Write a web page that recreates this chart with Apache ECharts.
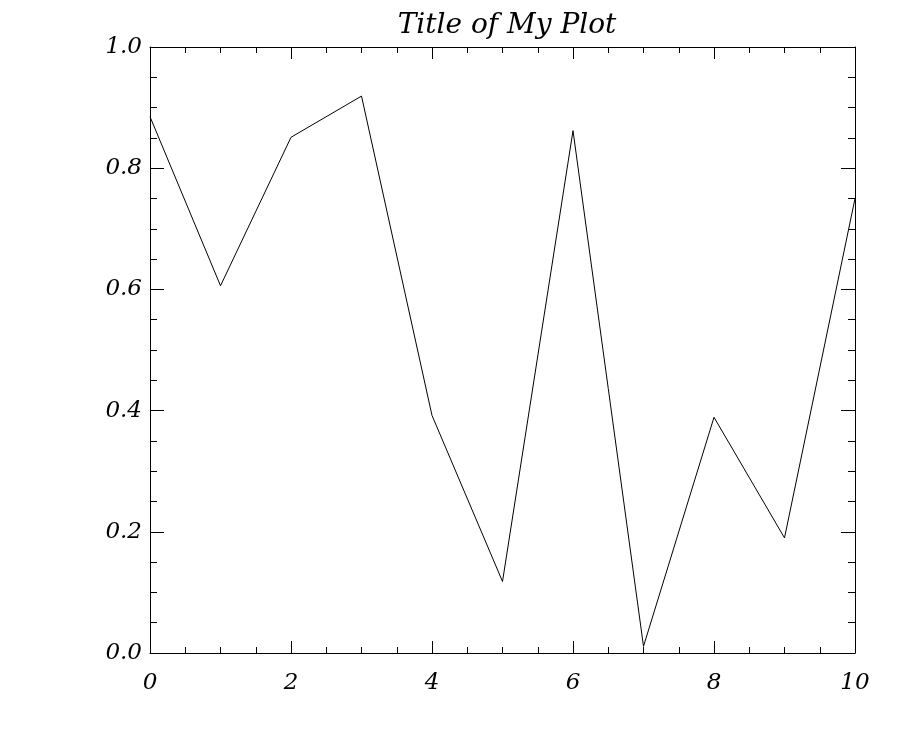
<!DOCTYPE html>
<html>
<head>
<meta charset="utf-8">
<script src="https://cdn.jsdelivr.net/npm/echarts@6/dist/echarts.min.js"></script>
<style>
  html, body { margin: 0; padding: 0; background: #fff; }
  #main { width: 900px; height: 750px; }
</style>
</head>
<body>
<div id="main"></div>
<script>
// data
const xValues = [0, 1, 2, 3, 4, 5, 6, 7, 8, 9, 10];
const yValues = [0.885, 0.606, 0.851, 0.919, 0.392, 0.118, 0.862, 0.011, 0.389, 0.190, 0.750];
const titleText = "Title of My Plot";

const font = "'DejaVu Serif', 'Liberation Serif', serif";

const chart = echarts.init(document.getElementById("main"));

// IDL style box: ticks on all four sides, pointing inward
const xBase = (pos, showLabel) => ({
  type: "value",
  position: pos,
  min: 0,
  max: 10,
  interval: 2,
  axisLine: { show: true, onZero: false, lineStyle: { color: "#000", width: 1 } },
  axisTick: { show: true, inside: true, length: 12, lineStyle: { color: "#000", width: 1 } },
  minorTick: { show: true, splitNumber: 4, length: 6, lineStyle: { color: "#000", width: 1 } },
  splitLine: { show: false },
  axisLabel: {
    show: showLabel,
    margin: 19,
    color: "#000",
    fontFamily: font,
    fontStyle: "italic",
    fontSize: 23
  }
});
const yBase = (pos, showLabel) => ({
  type: "value",
  position: pos,
  min: 0,
  max: 1,
  interval: 0.2,
  axisLine: { show: true, onZero: false, lineStyle: { color: "#000", width: 1 } },
  axisTick: { show: true, inside: true, length: 14, lineStyle: { color: "#000", width: 1 } },
  minorTick: { show: true, splitNumber: 4, length: 7, lineStyle: { color: "#000", width: 1 } },
  splitLine: { show: false },
  axisLabel: {
    show: showLabel,
    margin: 8,
    color: "#000",
    fontFamily: font,
    fontStyle: "italic",
    fontSize: 23,
    formatter: v => v.toFixed(1)
  }
});

chart.setOption({
  animation: false,
  backgroundColor: "#fff",
  title: {
    text: titleText,
    left: 502,
    textAlign: "center",
    top: 7,
    textStyle: {
      color: "#000",
      fontFamily: font,
      fontStyle: "italic",
      fontWeight: "normal",
      fontSize: 28
    }
  },
  grid: { left: 150, right: 45, top: 47, bottom: 97 },
  xAxis: [xBase("bottom", true), xBase("top", false)],
  yAxis: [yBase("left", true), yBase("right", false)],
  series: [
    {
      type: "line",
      data: xValues.map((x, i) => [x, yValues[i]]),
      showSymbol: false,
      lineStyle: { color: "#000", width: 1 },
      itemStyle: { color: "#000" }
    }
  ]
});
</script>
</body>
</html>
